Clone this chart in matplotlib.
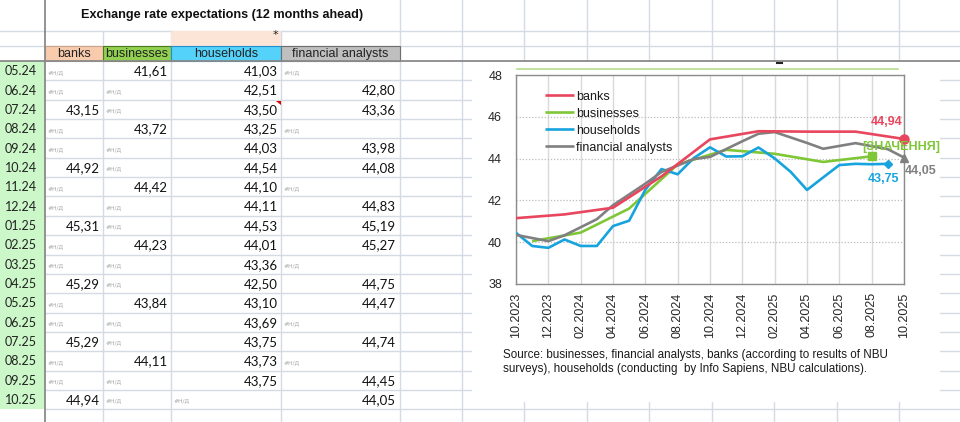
import numpy as np
import matplotlib
matplotlib.use("Agg")
import matplotlib.pyplot as plt
from matplotlib.patches import Rectangle, Polygon

# ---------------- data ----------------
months = ["10.2023", "11.2023", "12.2023", "01.2024", "02.2024", "03.2024", "04.2024",
          "05.2024", "06.2024", "07.2024", "08.2024", "09.2024", "10.2024", "11.2024",
          "12.2024", "01.2025", "02.2025", "03.2025", "04.2025", "05.2025", "06.2025",
          "07.2025", "08.2025", "09.2025", "10.2025"]
nan = np.nan
banks = [41.15, nan, nan, 41.33, nan, nan, 41.65, nan, nan, 43.15, nan, nan, 44.92,
         nan, nan, 45.31, nan, nan, 45.29, nan, nan, 45.29, nan, nan, 44.94]
businesses = [nan, 40.05, nan, nan, 40.46, nan, nan, 41.61, nan, nan, 43.72, nan, nan,
              44.42, nan, nan, 44.23, nan, nan, 43.84, nan, nan, 44.11, nan, nan]
households = [40.45, 39.82, 39.73, 40.13, 39.82, 39.82, 40.77, 41.03, 42.51, 43.50,
              43.25, 44.03, 44.54, 44.10, 44.11, 44.53, 44.01, 43.36, 42.50, 43.10,
              43.69, 43.75, 43.73, 43.75, nan]
analysts = [40.35, nan, 40.05, 40.33, nan, 41.10, 41.77, nan, 42.80, 43.36, nan, 43.98,
            44.08, nan, 44.83, 45.19, 45.27, nan, 44.75, 44.47, nan, 44.74, nan, 44.45,
            44.05]
series_names = ["banks", "businesses", "households", "financial analysts"]
table_first = 7  # table starts at 05.24
title = "Exchange rate expectations (12 months ahead)"
source = ["Source: businesses, financial analysts, banks (according to results of NBU",
          "surveys), households (conducting  by Info Sapiens, NBU calculations)."]
end_labels = ["44,94", "[ЗНАЧЕННЯ]", "43,75", "44,05"]

colors = ["#E8465E", "#7FC737", "#17A3DD", "#808080"]
markers = ["o", "s", "D", "^"]
msizes = [6.5, 5.5, 4.0, 6.0]
label_offsets = [(-17, 17), (30, 9), (-4, -15), (17, -13)]

# ---------------- figure ----------------
fig = plt.figure(figsize=(9.6, 4.22), dpi=100)
bg = fig.add_axes([0, 0, 1, 1])
bg.set_xlim(0, 960)
bg.set_ylim(422, 0)
bg.axis("off")

grid_c = "#D5DBE5"
row_h = 19.35
y0 = 61.0
row_bounds = [y0 + row_h * k for k in range(0, 20)]
tbl_cols = [45, 103, 171, 281, 399.5]
right_cols = [461.5 + 62.5 * j for j in range(9)]

# horizontal sheet lines
for y in [31, 45.5]:
    bg.plot([0, 960], [y, y], color=grid_c, lw=1, zorder=1)
for y in row_bounds[1:]:
    bg.plot([45, 960], [y, y], color=grid_c, lw=1, zorder=1)
# vertical sheet lines
for x in tbl_cols[1:4]:
    bg.plot([x, x], [31, 422], color=grid_c, lw=1, zorder=1)
for x in [399.5] + right_cols:
    bg.plot([x, x], [0, 422], color=grid_c, lw=1, zorder=1)

# green row-header column
bg.add_patch(Rectangle((0, y0), 44.5, row_h * 18, facecolor="#CCF7C8", edgecolor="none", zorder=1.5))

# header fills
hdr_fills = ["#F8CBAD", "#92D050", "#55D2FA", "#BFBFBF"]
hdr_edges = ["#C9A48A", "#4E7A22", "#1E8FD0", "#6E6E6E"]
for i in range(4):
    x1, x2 = tbl_cols[i], tbl_cols[i + 1]
    bg.add_patch(Rectangle((x1, 45.5), x2 - x1, 15.5, facecolor=hdr_fills[i],
                           edgecolor=hdr_edges[i], lw=0.8, zorder=2))
    bg.text((x1 + x2) / 2, 54, series_names[i], ha="center", va="center",
            fontsize=9, family="Liberation Sans", color="#222222", zorder=3)
bg.add_patch(Rectangle((171, 31), 110, 14.5, facecolor="#FCE4D6", edgecolor="none", zorder=1.5))
bg.text(275, 35, "*", ha="center", va="center", fontsize=8, color="#222222", zorder=3)

# title
bg.text(222, 15, title, ha="center", va="center", fontsize=9.1, fontweight="bold",
        family="Liberation Sans", color="#111111")

# freeze lines
bg.plot([45, 45], [0, 422], color="#8A8A8A", lw=1.3, zorder=2.5)
bg.plot([0, 960], [61.3, 61.3], color="#8A8A8A", lw=1.3, zorder=2.5)

# table body
cols_data = [banks, businesses, households, analysts]
for r in range(len(months) - table_first):
    idx = table_first + r
    yc = y0 + row_h * (r + 0.5) + 0.5
    m = months[idx]
    bg.text(21, yc, m[:3] + m[5:], ha="center", va="center", fontsize=9,
            family="Lato", color="#222222", zorder=3)
    for c in range(4):
        v = cols_data[c][idx]
        x1, x2 = tbl_cols[c], tbl_cols[c + 1]
        if np.isnan(v):
            bg.text(x1 + 3, yc + 1, "#Н/Д", ha="left", va="center", fontsize=4.3,
                    family="DejaVu Sans", color="#A8A8A8", zorder=3)
        else:
            bg.text(x2 - 3.5, yc, f"{v:.2f}".replace(".", ","), ha="right", va="center",
                    fontsize=9.5, family="Lato", color="#111111", zorder=3)
# comment indicator
bg.add_patch(Polygon([[276, 100.5], [280.5, 100.5], [280.5, 105]], closed=True,
                     facecolor="#E00000", edgecolor="none", zorder=3))

# chart area background
bg.add_patch(Rectangle((472, 62.3), 468, 340, facecolor="white", edgecolor="none", zorder=4))
bg.plot([517, 898], [69, 69], color="#B5DC8F", lw=1.2, zorder=5)
bg.plot([777, 782], [62.5, 62.5], color="#222222", lw=1.5, zorder=5)
for k, line in enumerate(source):
    bg.text(503, 355 + 14 * k, line, ha="left", va="center", fontsize=8.4,
            family="Liberation Sans", color="#1A1A1A", zorder=5)

# ---------------- chart ----------------
ax = fig.add_axes([516 / 960, (422 - 284) / 422, 388 / 960, 209 / 422], zorder=6)
ax.set_facecolor("white")
x = np.arange(len(months))
for i, data in enumerate(cols_data):
    arr = np.array(data, dtype=float)
    mask = ~np.isnan(arr)
    ax.plot(x[mask], arr[mask], color=colors[i], lw=1.9, solid_joinstyle="round",
            solid_capstyle="butt", label=series_names[i], zorder=3 + (i == 0))
    last = np.where(mask)[0][-1]
    ax.plot([x[last]], [arr[last]], marker=markers[i], ms=msizes[i], color=colors[i],
            ls="none", zorder=5, clip_on=False)
    ax.annotate(end_labels[i], (x[last], arr[last]), xytext=label_offsets[i],
                textcoords="offset pixels", ha="center", va="center", fontsize=9,
                fontweight="bold", color=colors[i], family="Liberation Sans",
                annotation_clip=False, zorder=6)

ax.set_xlim(0, len(months) - 1)
ax.set_ylim(38, 48)
ax.set_xticks(x[::2])
ax.set_xticklabels(months[::2], rotation=90, fontsize=9, family="Liberation Sans",
                   color="#262626")
ax.set_yticks(np.arange(38, 49, 2))
ax.set_yticklabels([str(v) for v in range(38, 49, 2)], fontsize=9,
                   family="Liberation Sans", color="#262626")
ax.tick_params(axis="both", length=0)
ax.tick_params(axis="x", pad=6)
ax.tick_params(axis="y", pad=10)
ax.xaxis.grid(True, color="#D9D9D9", lw=1)
ax.yaxis.grid(True, color="#BDBDBD", lw=0.9, linestyle=(0, (1, 1.5)))
ax.set_axisbelow(True)
for s in ax.spines.values():
    s.set_color("#8C8C8C")
    s.set_linewidth(1)

leg = ax.legend(loc="upper left", bbox_to_anchor=(0.075, 0.925), frameon=False,
                handlelength=2.3, handletextpad=0.2, labelspacing=0.4,
                borderpad=0, borderaxespad=0,
                prop={"family": "Liberation Sans", "size": 9})
for t in leg.get_texts():
    t.set_color("#1A1A1A")

fig.savefig("out.png", dpi=100)
